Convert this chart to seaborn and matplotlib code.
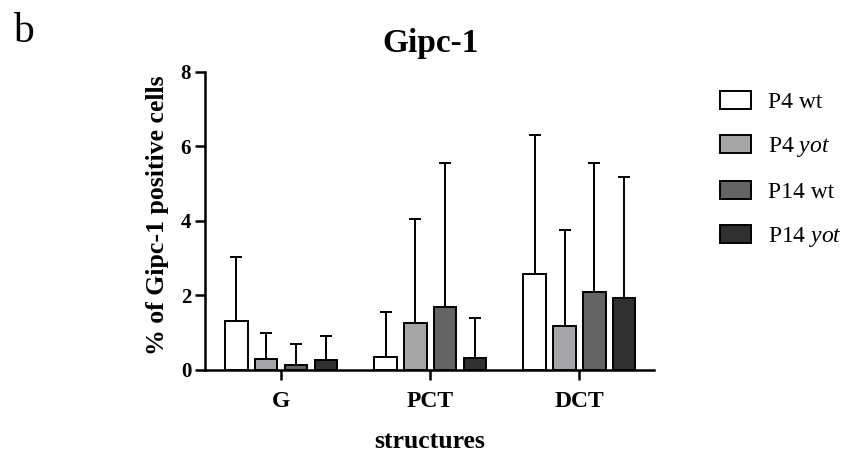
import pandas as pd
import seaborn as sns
import matplotlib.pyplot as plt

# values
structures = ['G', 'PCT', 'DCT']
groups = ['P4 wt', 'P4 yot', 'P14 wt', 'P14 yot']
legend_labels = ['P4 wt', r'P4 $\mathit{yot}$', 'P14 wt', r'P14 $\mathit{yot}$']
colors = ['#ffffff', '#a5a5a7', '#646464', '#303030']

p4_wt = [1.30, 0.36, 2.57]
p4_yot = [0.30, 1.25, 1.19]
p14_wt = [0.14, 1.70, 2.09]
p14_yot = [0.27, 0.31, 1.94]

p4_wt_sd = [1.73, 1.19, 3.74]
p4_yot_sd = [0.68, 2.80, 2.56]
p14_wt_sd = [0.55, 3.85, 3.46]
p14_yot_sd = [0.65, 1.08, 3.23]

y_ticks = [0, 2, 4, 6, 8]


def build_frame():
    means = [p4_wt, p4_yot, p14_wt, p14_yot]
    sds = [p4_wt_sd, p4_yot_sd, p14_wt_sd, p14_yot_sd]
    rows = []
    for g, m, s in zip(groups, means, sds):
        for st, mv, sv in zip(structures, m, s):
            rows.append({'structure': st, 'group': g, 'value': mv, 'sd': sv})
    return pd.DataFrame(rows)


def main():
    df = build_frame()

    sns.set_theme(style='ticks', rc={'text.color': 'black',
                                     'axes.labelcolor': 'black',
                                     'xtick.color': 'black',
                                     'ytick.color': 'black',
                                     'axes.edgecolor': 'black'})
    plt.rcParams['font.family'] = ['Liberation Serif', 'DejaVu Serif']
    plt.rcParams['mathtext.fontset'] = 'custom'
    plt.rcParams['mathtext.rm'] = 'Liberation Serif'
    plt.rcParams['mathtext.it'] = 'Liberation Serif:italic'

    fig = plt.figure(figsize=(8.51, 4.55), dpi=100)
    ax = fig.add_axes([0.241, 0.187, 0.5275, 0.655])

    sns.barplot(data=df, x='structure', y='value', hue='group',
                order=structures, hue_order=groups, palette=colors,
                errorbar=None, width=0.8, gap=0.25,
                edgecolor='black', linewidth=1.4, ax=ax, zorder=3)

    # upper-only SD whiskers, placed on the bars seaborn drew
    for g, cont in zip(groups, ax.containers):
        sub = df[df['group'] == g].set_index('structure').loc[structures]
        xs = [b.get_x() + b.get_width() / 2 for b in cont]
        hs = [b.get_height() for b in cont]
        ax.errorbar(xs, hs, yerr=[[0] * len(xs), sub['sd'].values],
                    fmt='none', ecolor='black', elinewidth=1.4,
                    capsize=4, capthick=1.4, zorder=2)

    ax.set_xlim(-0.51, 2.5)
    ax.set_ylim(0, 8)
    ax.set_yticks(y_ticks)
    sns.despine(ax=ax)
    for side in ['left', 'bottom']:
        ax.spines[side].set_linewidth(1.8)
    ax.tick_params(axis='both', width=1.8, length=7, color='black')
    ax.tick_params(axis='y', labelsize=15, pad=3)
    ax.tick_params(axis='x', labelsize=17, pad=8)
    for lab in ax.get_xticklabels() + ax.get_yticklabels():
        lab.set_fontweight('bold')

    ax.set_ylabel('% of Gipc-1 positive cells', fontsize=18.5, fontweight='bold')
    ax.set_xlabel('structures', fontsize=18.5, fontweight='bold')
    ax.yaxis.set_label_coords(-0.08, 0.52)
    ax.xaxis.set_label_coords(0.5, -0.2)

    handles, _ = ax.get_legend_handles_labels()
    ax.legend(handles, legend_labels, loc='upper left',
              bbox_to_anchor=(0.846, 0.80), bbox_transform=fig.transFigure,
              frameon=False, fontsize=17, handlelength=1.3,
              handleheight=0.8, handletextpad=0.75, labelspacing=0.92,
              borderpad=0, borderaxespad=0)

    fig.text(0.506, 0.905, 'Gipc-1', ha='center', va='center',
             fontsize=24, fontweight='bold')
    fig.text(0.015, 0.93, 'b', ha='left', va='center', fontsize=30)

    fig.savefig('out.png', dpi=100)
    plt.close(fig)


if __name__ == '__main__':
    main()
